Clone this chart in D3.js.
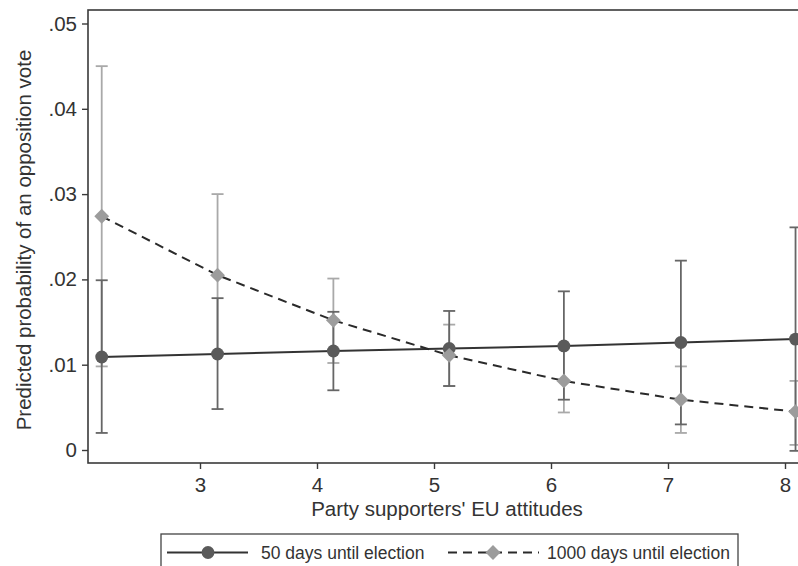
<!DOCTYPE html>
<html>
<head>
<meta charset="utf-8">
<script src="https://cdn.jsdelivr.net/npm/d3@7"></script>
<style>
  html, body { margin: 0; padding: 0; background: #fff; }
  svg { display: block; font-family: "Liberation Sans", Arial, sans-serif; }
</style>
</head>
<body>
<svg id="chart" width="798" height="566"></svg>
<script>
// EU attitude values at which predictions were computed
const attitudes = [2.16, 3.15, 4.14, 5.13, 6.11, 7.11, 8.09];

// 50 days until election: predicted probability and 95% CI
const near = [0.0109, 0.01125, 0.0116, 0.0119, 0.0122, 0.0126, 0.0130];
const nearLo = [0.0020, 0.0048, 0.0070, 0.0075, 0.0059, 0.0030, -0.0001];
const nearHi = [0.0199, 0.0178, 0.0162, 0.0163, 0.0186, 0.0222, 0.0261];

// 1000 days until election: predicted probability and 95% CI
const far = [0.0274, 0.0205, 0.0152, 0.0111, 0.0081, 0.0059, 0.0045];
const farLo = [0.0098, 0.0112, 0.0102, 0.0075, 0.0044, 0.0020, 0.0006];
const farHi = [0.0450, 0.0300, 0.0201, 0.0147, 0.0119, 0.0098, 0.0081];

const xTicks = [3, 4, 5, 6, 7, 8];
const yTicks = [0, 0.01, 0.02, 0.03, 0.04, 0.05];
const yTickLabels = ["0", ".01", ".02", ".03", ".04", ".05"];

const seriesNames = ["50 days until election", "1000 days until election"];

const svg = d3.select("#chart");

const frame = { left: 88, right: 802, top: 10, bottom: 463 };

const x = d3.scaleLinear().domain([3, 8]).range([200, 785]);
const y = d3.scaleLinear().domain([0, 0.05]).range([450, 23.5]);

// plot frame
svg.append("rect")
  .attr("x", frame.left).attr("y", frame.top)
  .attr("width", frame.right - frame.left)
  .attr("height", frame.bottom - frame.top)
  .attr("fill", "none")
  .attr("stroke", "#3a3a3a")
  .attr("stroke-width", 1.6);

// y axis
const yAxis = d3.axisLeft(y)
  .tickValues(yTicks)
  .tickFormat((d, i) => yTickLabels[i])
  .tickSize(6)
  .tickPadding(5);
const gy = svg.append("g").attr("transform", `translate(${frame.left},0)`).call(yAxis);
gy.select(".domain").remove();
gy.selectAll(".tick line").attr("stroke", "#3a3a3a").attr("stroke-width", 1.4);
gy.selectAll(".tick text").attr("font-size", 20.5).attr("fill", "#333")
  .attr("font-family", "'Liberation Sans', Arial, sans-serif");

// x axis
const xAxis = d3.axisBottom(x)
  .tickValues(xTicks)
  .tickFormat(d3.format("d"))
  .tickSize(6)
  .tickPadding(8);
const gx = svg.append("g").attr("transform", `translate(0,${frame.bottom})`).call(xAxis);
gx.select(".domain").remove();
gx.selectAll(".tick line").attr("stroke", "#3a3a3a").attr("stroke-width", 1.4);
gx.selectAll(".tick text").attr("font-size", 20.5).attr("fill", "#333")
  .attr("font-family", "'Liberation Sans', Arial, sans-serif");

// axis titles
svg.append("text")
  .attr("x", 447).attr("y", 515.5)
  .attr("text-anchor", "middle")
  .attr("font-size", 20.5).attr("fill", "#333")
  .text("Party supporters' EU attitudes");

svg.append("text")
  .attr("transform", `translate(30.5,240) rotate(-90)`)
  .attr("text-anchor", "middle")
  .attr("font-size", 20.5).attr("fill", "#333")
  .text("Predicted probability of an opposition vote");

const plot = svg.append("g");

// error bars
function errorBars(lo, hi, color) {
  const g = plot.append("g").attr("stroke", color).attr("stroke-width", 1.8);
  attitudes.forEach((a, i) => {
    g.append("line").attr("x1", x(a)).attr("x2", x(a)).attr("y1", y(lo[i])).attr("y2", y(hi[i]));
    [lo[i], hi[i]].forEach(v => {
      g.append("line").attr("x1", x(a) - 6).attr("x2", x(a) + 6).attr("y1", y(v)).attr("y2", y(v));
    });
  });
}
errorBars(farLo, farHi, "#a9a9a9");
errorBars(nearLo, nearHi, "#666");

const line = d3.line().x((d, i) => x(attitudes[i])).y(d => y(d));

plot.append("path").datum(near)
  .attr("d", line).attr("fill", "none")
  .attr("stroke", "#333").attr("stroke-width", 2);

plot.append("path").datum(far)
  .attr("d", line).attr("fill", "none")
  .attr("stroke", "#2a2a2a").attr("stroke-width", 2)
  .attr("stroke-dasharray", "9,6");

const circle = d3.symbol().type(d3.symbolCircle).size(130);
const diamond = d3.symbol().type(d3.symbolSquare).size(110);

plot.selectAll(".pt-near").data(near).enter().append("path")
  .attr("d", circle)
  .attr("transform", (d, i) => `translate(${x(attitudes[i])},${y(d)})`)
  .attr("fill", "#5a5a5a");

plot.selectAll(".pt-far").data(far).enter().append("path")
  .attr("d", diamond)
  .attr("transform", (d, i) => `translate(${x(attitudes[i])},${y(d)}) rotate(45)`)
  .attr("fill", "#9c9c9c");

// legend
const legend = svg.append("g");
legend.append("rect")
  .attr("x", 161).attr("y", 534).attr("width", 577).attr("height", 50)
  .attr("fill", "#fff").attr("stroke", "#444").attr("stroke-width", 1.3);

const ly = 552.5;
legend.append("line").attr("x1", 167).attr("x2", 248).attr("y1", ly).attr("y2", ly)
  .attr("stroke", "#333").attr("stroke-width", 2);
legend.append("path").attr("d", circle).attr("transform", `translate(208,${ly})`).attr("fill", "#5a5a5a");
legend.append("text").attr("x", 261).attr("y", ly + 6.5).attr("font-size", 17.5).attr("fill", "#333")
  .text(seriesNames[0]);

legend.append("line").attr("x1", 448).attr("x2", 539).attr("y1", ly).attr("y2", ly)
  .attr("stroke", "#2a2a2a").attr("stroke-width", 2).attr("stroke-dasharray", "9,6");
legend.append("path").attr("d", diamond).attr("transform", `translate(493,${ly}) rotate(45)`).attr("fill", "#9c9c9c");
legend.append("text").attr("x", 547).attr("y", ly + 6.5).attr("font-size", 17.5).attr("fill", "#333")
  .text(seriesNames[1]);
</script>
</body>
</html>
